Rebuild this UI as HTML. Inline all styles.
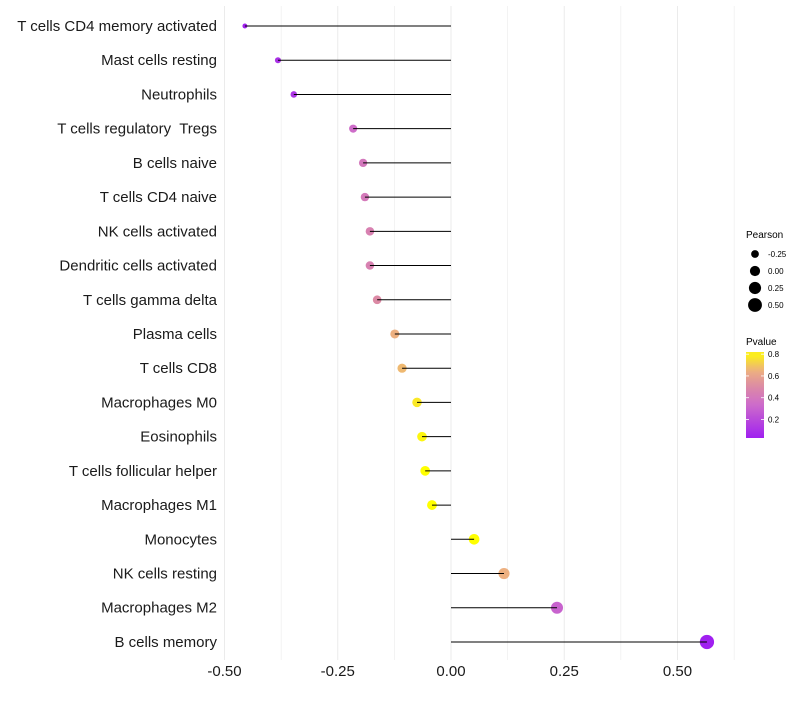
<!DOCTYPE html>
<html><head><meta charset="utf-8"><style>
body{margin:0;background:#fff;font-family:"Liberation Sans",sans-serif}
text{white-space:pre}
</style></head><body>
<svg id="chart" width="800" height="700" xmlns="http://www.w3.org/2000/svg" font-family="Liberation Sans, sans-serif"></svg>
<script>
const categories=["T cells CD4 memory activated","Mast cells resting","Neutrophils","T cells regulatory  Tregs","B cells naive","T cells CD4 naive","NK cells activated","Dendritic cells activated","T cells gamma delta","Plasma cells","T cells CD8","Macrophages M0","Eosinophils","T cells follicular helper","Macrophages M1","Monocytes","NK cells resting","Macrophages M2","B cells memory"];
const pearson=[-0.455,-0.382,-0.347,-0.216,-0.194,-0.190,-0.179,-0.179,-0.163,-0.124,-0.108,-0.075,-0.064,-0.057,-0.042,0.051,0.117,0.234,0.565];
const pvalue=[0.04,0.10,0.12,0.34,0.40,0.41,0.45,0.45,0.50,0.65,0.67,0.77,0.80,0.82,0.86,0.85,0.65,0.30,0.03];
const xTicks=[-0.5,-0.25,0,0.25,0.5];
const xTickLabels=["-0.50","-0.25","0.00","0.25","0.50"];
const sizeLegend=[-0.25,0,0.25,0.5];
const sizeLegendLabels=["-0.25","0.00","0.25","0.50"];
const colorTicks=[0.2,0.4,0.6,0.8];

const NS="http://www.w3.org/2000/svg";
const svg=document.getElementById('chart');
const x=v=>451+v*453;
const y=i=>26+i*34.22;
const r=v=>Math.sqrt(Math.max(1,26+44*v));
const stops=[[0.03,[160,32,240]],[0.35,[207,111,200]],[0.5,[220,138,165]],[0.65,[237,176,128]],[0.82,[255,255,0]]];
function col(p){
  if(p<=stops[0][0])return 'rgb('+stops[0][1]+')';
  for(let k=1;k<stops.length;k++){if(p<=stops[k][0]){const a=stops[k-1],b=stops[k],t=(p-a[0])/(b[0]-a[0]);return 'rgb('+a[1].map((c,j)=>Math.round(c+(b[1][j]-c)*t)).join(',')+')';}}
  return 'rgb('+stops[stops.length-1][1]+')';
}
function mk(tag,attrs,parent){const e=document.createElementNS(NS,tag);for(const k in attrs)e.setAttribute(k,attrs[k]);(parent||svg).appendChild(e);return e;}

for(let v=-0.5;v<=0.63;v+=0.125){
  const g=mk('line',{x1:x(v),x2:x(v),y1:6,y2:660,stroke:'#ebebeb','stroke-width':Math.abs((v*4)%1)<1e-6?1:0.6});
  
  
}
categories.forEach((c,i)=>{
  const t=mk('text',{x:217,y:y(i)+5,'text-anchor':'end','font-size':15,fill:'#1a1a1a'});
  t.textContent=c;
  
  
  const pt=mk('circle',{cx:x(pearson[i]),cy:y(i),r:r(pearson[i]),fill:col(pvalue[i])});
  
  
  const ln=mk('line',{x1:x(0),x2:x(pearson[i]),y1:y(i),y2:y(i),stroke:'#000','stroke-width':1});
  
  
});
xTicks.forEach((v,i)=>{
  const t=mk('text',{x:x(v),y:676,'text-anchor':'middle','font-size':15,fill:'#1a1a1a'});
  t.textContent=xTickLabels[i];
  
  
});
const lt=mk('text',{x:746,y:238,'font-size':10,fill:'#000'});lt.textContent='Pearson';


sizeLegend.forEach((v,i)=>{
  const cy=254+i*17;
  const c=mk('circle',{cx:755,cy:cy,r:r(v),fill:'#000'});
  
  
  const t=mk('text',{x:768,y:cy+3,'font-size':8,fill:'#000'});t.textContent=sizeLegendLabels[i];
  
  
});
const ct=mk('text',{x:746,y:345,'font-size':10,fill:'#000'});ct.textContent='Pvalue';


const defs=mk('defs',{});
const gr=mk('linearGradient',{id:'pg',x1:0,y1:1,x2:0,y2:0},defs);
const cy=p=>438-(p-0.03)/(0.82-0.03)*86;
for(let p=0.03;p<=0.821;p+=0.05){mk('stop',{offset:(p-0.03)/0.79,'stop-color':col(p)},gr);}
const bar=mk('rect',{x:746,y:352,width:18,height:86,fill:'url(#pg)'});


colorTicks.forEach(p=>{
  mk('line',{x1:746,x2:749,y1:cy(p),y2:cy(p),stroke:'#fff','stroke-width':0.8});
  mk('line',{x1:761,x2:764,y1:cy(p),y2:cy(p),stroke:'#fff','stroke-width':0.8});
  const t=mk('text',{x:768,y:cy(p)+3,'font-size':8,fill:'#000'});t.textContent=p.toFixed(1);
  
  
});
</script>
</body></html>
